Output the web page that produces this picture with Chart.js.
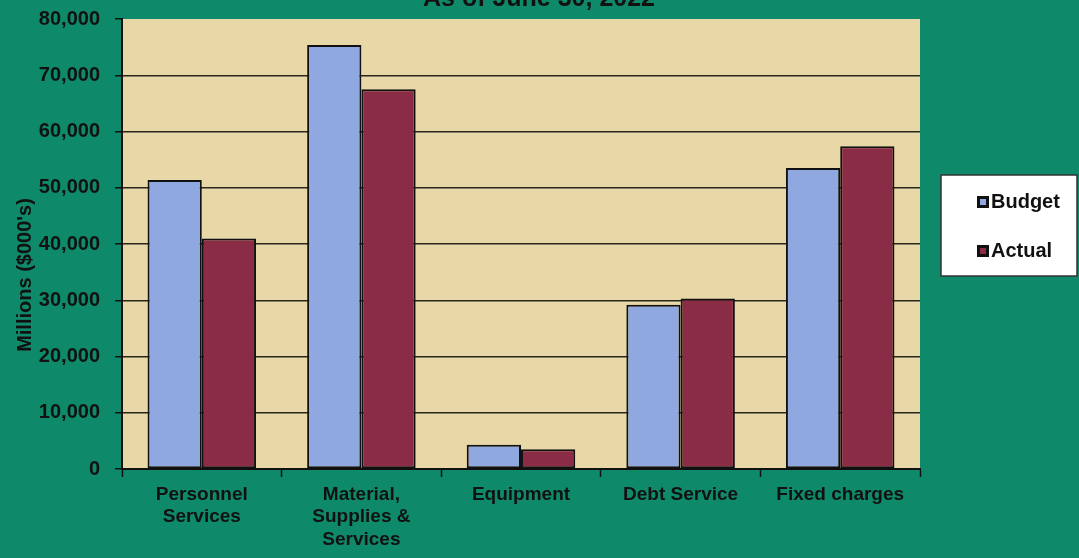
<!DOCTYPE html>
<html>
<head>
<meta charset="utf-8">
<script src="https://cdn.jsdelivr.net/npm/chart.js@4.4.1/dist/chart.umd.min.js"></script>
<style>
  html, body { margin: 0; padding: 0; background: #0e8a6a; overflow: hidden; }
  #wrap { width: 1079px; height: 558px; }
</style>
</head>
<body>
<div id="wrap"><canvas id="chart" width="1079" height="558"></canvas></div>
<script>
// categories and values (thousands of dollars)
const categories = [
    ['Personnel', 'Services'],
    ['Material,', 'Supplies &', 'Services'],
    'Equipment',
    'Debt Service',
    'Fixed charges'
];
const budget = [51400, 75400, 4300, 29200, 53500];
const actual = [41000, 67500, 3500, 30300, 57400];
const seriesNames = ['Budget', 'Actual'];
const titleText = 'As of June 30, 2022';
const axisTitle = "Millions ($000's)";

const FONT = '"Liberation Sans", Arial, sans-serif';
const GREEN = '#0e8a6a';
const TAN = '#e8d8a8';
const colors = ['#8fa8e0', '#8a2c46'];

// green page + tan plot background
const backdrop = {
    id: 'backdrop',
    beforeDraw(chart) {
        const { ctx, chartArea: a } = chart;
        ctx.save();
        ctx.fillStyle = GREEN;
        ctx.fillRect(0, 0, chart.width, chart.height);
        ctx.fillStyle = TAN;
        ctx.fillRect(a.left, a.top, a.right - a.left, a.bottom - a.top);
        ctx.restore();
    }
};

// title, rotated axis title and boxed legend
const extras = {
    id: 'extras',
    afterDraw(chart) {
        const ctx = chart.ctx;
        ctx.save();
        ctx.fillStyle = '#111';
        ctx.font = 'bold 25px ' + FONT;
        ctx.textAlign = 'center';
        ctx.textBaseline = 'alphabetic';
        ctx.fillText(titleText, 539, 6);

        ctx.save();
        ctx.translate(25, 275);
        ctx.rotate(-Math.PI / 2);
        ctx.font = 'bold 20px ' + FONT;
        ctx.textBaseline = 'middle';
        ctx.fillText(axisTitle, 0, 0);
        ctx.restore();

        // legend box
        ctx.fillStyle = '#fff';
        ctx.fillRect(941, 175, 136, 101);
        ctx.strokeStyle = '#333';
        ctx.lineWidth = 1.5;
        ctx.strokeRect(941, 175, 136, 101);

        const rows = [201, 250];
        ctx.font = 'bold 20px ' + FONT;
        ctx.textAlign = 'left';
        ctx.textBaseline = 'middle';
        chart.data.datasets.forEach((ds, i) => {
            const y = rows[i];
            ctx.fillStyle = '#111';
            ctx.fillRect(977, y - 5, 12, 12);
            ctx.fillStyle = ds.backgroundColor;
            ctx.fillRect(980, y - 2, 6, 6);
            ctx.fillStyle = '#111';
            ctx.fillText(ds.label, 991, y + 1);
        });
        ctx.restore();
    }
};

new Chart(document.getElementById('chart'), {
    type: 'bar',
    data: {
        labels: categories,
        datasets: [
            { label: seriesNames[0], data: budget, backgroundColor: colors[0] },
            { label: seriesNames[1], data: actual, backgroundColor: colors[1] }
        ]
    },
    options: {
        responsive: false,
        animation: false,
        layout: { padding: { top: 19, right: 159, left: 0, bottom: 0 } },
        datasets: {
            bar: {
                borderColor: '#111',
                borderWidth: 2,
                borderSkipped: false,
                categoryPercentage: 0.68,
                barPercentage: 1.0
            }
        },
        plugins: {
            legend: { display: false },
            title: { display: false },
            tooltip: { enabled: false }
        },
        scales: {
            x: {
                afterFit(scale) {
                    scale.height = 89;
                    scale.paddingLeft = 0;
                    scale.paddingRight = 0;
                },
                grid: {
                    offset: true,
                    drawOnChartArea: false,
                    drawTicks: true,
                    tickLength: 8,
                    tickColor: '#111',
                    tickWidth: 1.5
                },
                border: { display: true, color: '#111', width: 2 },
                ticks: {
                    color: '#111',
                    font: { family: FONT, size: 19, weight: 'bold', lineHeight: 1.2 },
                    padding: 6,
                    maxRotation: 0,
                    autoSkip: false
                }
            },
            y: {
                min: 0,
                max: 80000,
                afterFit(scale) {
                    scale.width = 122;
                    scale.paddingTop = 0;
                    scale.paddingBottom = 0;
                },
                grid: {
                    color: ctx => ctx.tick && ctx.tick.value === 80000 ? 'rgba(0,0,0,0)' : '#2a261c',
                    lineWidth: 1.5,
                    drawTicks: true,
                    tickLength: 7,
                    tickColor: '#111',
                    tickWidth: 1.5
                },
                border: { display: true, color: '#111', width: 2 },
                ticks: {
                    stepSize: 10000,
                    color: '#111',
                    padding: 15,
                    font: { family: FONT, size: 20, weight: 'bold' },
                    callback: v => v.toLocaleString('en-US')
                }
            }
        }
    },
    plugins: [backdrop, extras]
});
</script>
</body>
</html>
